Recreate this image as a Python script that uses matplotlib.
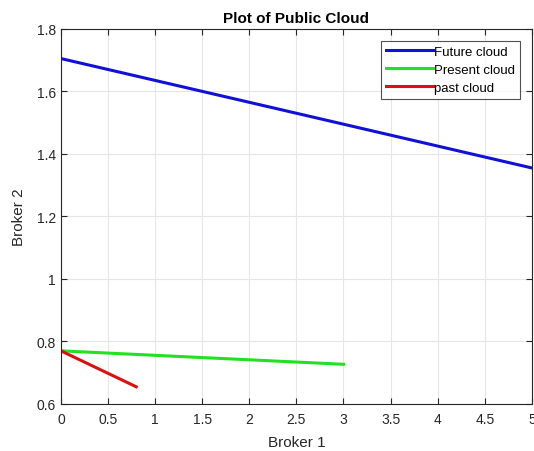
import matplotlib
matplotlib.use("Agg")
import matplotlib.pyplot as plt

plt.rcParams['font.family'] = ['Liberation Sans', 'DejaVu Sans']

future_x = [0, 5]
future_y = [1.705, 1.355]
present_x = [0, 3]
present_y = [0.77, 0.727]
past_x = [0, 0.8]
past_y = [0.77, 0.655]

xticks = [0, 0.5, 1, 1.5, 2, 2.5, 3, 3.5, 4, 4.5, 5]
xticklabels = ['0', '0.5', '1', '1.5', '2', '2.5', '3', '3.5', '4', '4.5', '5']
yticks = [0.6, 0.8, 1.0, 1.2, 1.4, 1.6, 1.8]
yticklabels = ['0.6', '0.8', '1', '1.2', '1.4', '1.6', '1.8']

fig = plt.figure(figsize=(5.34, 4.52), dpi=100)
ax = fig.add_axes([0.114, 0.104, 0.882, 0.830])
ax.plot(future_x, future_y, color='#1010d8', lw=2.2, label='Future cloud')
ax.plot(present_x, present_y, color='#22e022', lw=2.2, label='Present cloud')
ax.plot(past_x, past_y, color='#dd1010', lw=2.2, label='past cloud')
ax.set_xlim(0, 5)
ax.set_ylim(0.6, 1.8)
ax.set_xticks(xticks)
ax.set_xticklabels(xticklabels)
ax.set_yticks(yticks)
ax.set_yticklabels(yticklabels)
ax.grid(True, color='#e6e6e6', lw=0.8)
ax.set_axisbelow(True)
ax.tick_params(direction='in', top=True, right=True, colors='#262626', labelsize=10, length=4)
ax.tick_params(axis='x', pad=6)
for s in ax.spines.values():
    s.set_color('#262626')
    s.set_linewidth(0.8)
ax.set_xlabel('Broker 1', fontsize=11, color='#262626', labelpad=6)
ax.set_ylabel('Broker 2', fontsize=11, color='#262626', labelpad=8)
ax.set_title('Plot of Public Cloud', fontsize=11, fontweight='bold', pad=5)
leg = ax.legend(loc='upper right', fontsize=9.5, frameon=True, fancybox=False,
                edgecolor='#262626', handlelength=3.6, handletextpad=0.1,
                borderpad=0.35, labelspacing=0.45, borderaxespad=0.9)
leg.get_frame().set_linewidth(0.8)
fig.savefig('out.png', dpi=100)
